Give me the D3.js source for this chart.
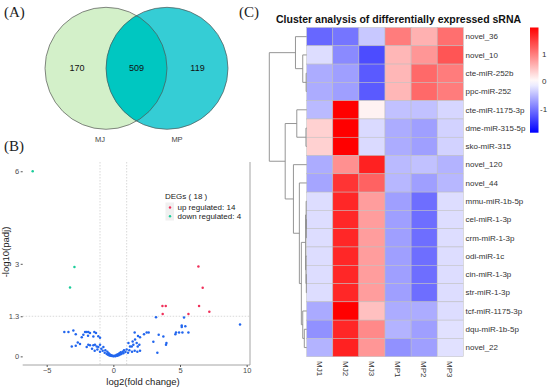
<!DOCTYPE html>
<html>
<head>
<meta charset="utf-8">
<script src="https://cdn.jsdelivr.net/npm/d3@7"></script>
<style>
  body { margin: 0; background: #fff; }
  svg { display: block; font-family: "Liberation Sans", Arial, sans-serif; }
  .panel-label { font-family: "Liberation Serif", "Times New Roman", serif; font-size: 15px; fill: #222; }
</style>
</head>
<body>
<svg id="fig" width="550" height="387"></svg>
<script>
// ---- data ----
const vennSets = ["MJ", "MP"];
const vennCounts = [170, 509, 119]; // MJ only, shared, MP only

// volcano: [log2FC, -log10(padj)]
const upPoints = [[6.38, 2.91], [6.7, 2.22], [3.68, 1.63], [3.93, 1.63], [6.43, 1.63],
  [3.7, 1.37], [5.63, 1.37], [7.2, 1.45]];
const downPoints = [[-6.05, 6.0], [-2.92, 2.9], [-3.25, 2.23]];
const nsPoints = [
  [-3.68, 0.79], [-3.37, 0.79], [-3.0, 0.84], [-2.82, 0.72], [-2.37, 0.62], [-2.12, 0.79],
  [-2.0, 0.79], [-1.88, 0.79], [-1.75, 0.76], [-1.43, 0.79], [-1.3, 0.76], [-2.25, 0.7],
  [-1.9, 0.67], [-1.5, 0.64], [-1.13, 0.65], [-1.0, 0.6], [-2.67, 0.45], [-2.5, 0.4],
  [-3.12, 0.32], [-2.82, 0.34], [-1.88, 0.38], [-1.75, 0.36], [-1.5, 0.36], [-1.38, 0.38],
  [-1.25, 0.32], [-1.13, 0.3], [-1.0, 0.38], [-2.0, 0.3], [-1.6, 0.25], [-1.4, 0.18],
  [-1.2, 0.22], [-1.0, 0.15], [-0.9, 0.25], [-0.8, 0.18], [-0.75, 0.3], [-0.65, 0.12],
  [-0.6, 0.2], [-0.5, 0.08], [-0.45, 0.15], [-0.4, 0.05], [-0.35, 0.1], [-0.3, 0.03],
  [-0.25, 0.06], [-0.2, 0.02], [-0.15, 0.04], [-0.1, 0.01], [-0.05, 0.02], [0, 0],
  [0.05, 0.01], [0.1, 0.02], [0.15, 0.0], [0.2, 0.03], [0.25, 0.05], [0.3, 0.02],
  [0.35, 0.07], [0.4, 0.04], [0.45, 0.1], [0.5, 0.06], [0.55, 0.13], [0.6, 0.08],
  [0.7, 0.15], [0.75, 0.1], [0.8, 0.2], [0.9, 0.14], [1.0, 0.22], [1.1, 0.12],
  [1.13, 0.43], [1.25, 0.32], [1.2, 0.2], [1.38, 0.32], [1.5, 0.38], [1.45, 0.48],
  [1.63, 0.55], [1.6, 0.77], [1.75, 0.43], [1.85, 0.66], [2.0, 0.62], [1.95, 0.38],
  [1.83, 0.32], [1.4, 0.15], [1.6, 0.18], [1.8, 0.15], [2.0, 0.18], [2.3, 0.72],
  [2.5, 0.77], [2.65, 0.77], [3.0, 0.47], [3.4, 0.7], [3.75, 0.64], [3.98, 0.43],
  [3.95, 0.38], [3.3, 0.12], [4.7, 0.77], [4.65, 0.72], [4.93, 0.77], [5.18, 0.77],
  [5.63, 0.77], [5.13, 1.0], [5.13, 0.95], [5.4, 0.98], [3.2, 1.27], [5.3, 1.26], [9.5, 1.03]
];
const volcanoXTicks = [-5, 0, 5, 10];
const volcanoYTicks = [0, 1.3, 3, 6];
const degTotal = 18, degUp = 14, degDown = 4;

// heatmap
const colNames = ["MJ1", "MJ2", "MJ3", "MP1", "MP2", "MP3"];
const rowNames = ["novel_36", "novel_10", "cte-miR-252b", "ppc-miR-252", "cte-miR-1175-3p",
  "dme-miR-315-5p", "sko-miR-315", "novel_120", "novel_44", "mmu-miR-1b-5p", "cel-miR-1-3p",
  "crm-miR-1-3p", "odi-miR-1c", "cin-miR-1-3p", "str-miR-1-3p", "tcf-miR-1175-3p",
  "dqu-miR-1b-5p", "novel_22"];
const zValues = [
  [-1.1, -1.0, -0.4, 1.0, 0.6, 1.1],
  [-0.25, -0.85, -1.3, 0.55, 0.8, 1.3],
  [-0.6, -0.7, -1.2, 0.55, 1.15, 1.0],
  [-0.6, -0.7, -1.2, 0.55, 1.15, 1.0],
  [-0.5, 1.95, 0.1, -0.45, -0.45, -0.3],
  [0.35, 1.95, -0.27, -0.6, -0.7, -0.33],
  [0.35, 1.95, -0.27, -0.6, -0.7, -0.33],
  [-0.6, 0.85, 1.7, -0.5, -0.45, -0.55],
  [-0.65, 1.55, 1.2, -0.52, -0.7, -0.52],
  [-0.25, 1.65, 0.75, -0.7, -1.05, -0.25],
  [-0.25, 1.65, 0.75, -0.7, -1.05, -0.25],
  [-0.25, 1.65, 0.75, -0.7, -1.05, -0.25],
  [-0.25, 1.65, 0.75, -0.7, -1.05, -0.25],
  [-0.25, 1.65, 0.75, -0.7, -1.05, -0.25],
  [-0.25, 1.65, 0.75, -0.7, -1.05, -0.25],
  [-0.62, 1.95, 0.48, -0.6, -0.6, -0.25],
  [-0.8, 1.65, 0.9, -0.55, -0.7, -0.22],
  [-0.55, 1.7, 0.8, -0.8, -0.7, -0.22]
];
const colorTicks = [-1, 0, 1];
// row clustering: [height, left, right], leaves are row indices
const rowTree = [10,
  [3.0, 0, [1.06, 1, [0.15, 2, 3]]],
  [5.75,
    [2.65, 4, [0.2, 5, 6]],
    [3.55, 7, [1.96, 8, [1.43,
      [0.3, [0.15, 9, [0.1, 10, 11]], [0.2, 12, [0.1, 13, 14]]],
      [1.06, 15, [0.64, 16, 17]]]]]]];

const svg = d3.select("#fig");

// ---- panel labels ----
svg.append("text").attr("class", "panel-label").attr("x", 4).attr("y", 17).text("(A)");
svg.append("text").attr("class", "panel-label").attr("x", 4).attr("y", 151).text("(B)");
svg.append("text").attr("class", "panel-label").attr("x", 239).attr("y", 17).text("(C)");

// ---- (A) venn ----
function drawVenn() {
  const g = svg.append("g");
  const r = 61, cy = 68.3;
  const cx = [106, 167];
  g.append("circle").attr("cx", cx[0]).attr("cy", cy).attr("r", r)
    .attr("fill", "#d3f0c9").attr("stroke", "none");
  g.append("circle").attr("cx", cx[1]).attr("cy", cy).attr("r", r)
    .attr("fill", "#35cdd5").attr("stroke", "none");
  // intersection lens
  g.append("clipPath").attr("id", "clipL")
    .append("circle").attr("cx", cx[0]).attr("cy", cy).attr("r", r);
  g.append("circle").attr("cx", cx[1]).attr("cy", cy).attr("r", r)
    .attr("clip-path", "url(#clipL)").attr("fill", "#00c7c1");
  cx.forEach(x => g.append("circle").attr("cx", x).attr("cy", cy).attr("r", r)
    .attr("fill", "none").attr("stroke", "#555").attr("stroke-width", 0.7));

  const numX = [77, 136.5, 197.5];
  vennCounts.forEach((c, i) => g.append("text")
    .attr("x", numX[i]).attr("y", 70.5).attr("text-anchor", "middle")
    .style("font-size", "9px").attr("fill", "#111").text(c));
  const labX = [100, 177];
  vennSets.forEach((s, i) => g.append("text")
    .attr("x", labX[i]).attr("y", 142).attr("text-anchor", "middle")
    .style("font-size", "7.5px").attr("fill", "#444").text(s));
}

// ---- (B) volcano ----
function drawVolcano() {
  const g = svg.append("g");
  const x = d3.scaleLinear().domain([-6.8, 10.25]).range([22.7, 250]);
  const y = d3.scaleLinear().domain([-0.28, 6.3]).range([365, 162]);
  const [x0, x1] = x.range(), [y0, y1] = y.range();

  // threshold lines
  g.selectAll(".vline").data([-1, 1]).enter().append("line")
    .attr("x1", d => x(d)).attr("x2", d => x(d)).attr("y1", y1).attr("y2", y0)
    .attr("stroke", "#c8c8c8").attr("stroke-width", 0.7).attr("stroke-dasharray", "1.5,1.5");
  g.append("line").attr("x1", x0).attr("x2", x1).attr("y1", y(1.3)).attr("y2", y(1.3))
    .attr("stroke", "#c8c8c8").attr("stroke-width", 0.7).attr("stroke-dasharray", "1.5,1.5");

  // bottom + right border
  g.append("line").attr("x1", x0).attr("x2", x1).attr("y1", y0).attr("y2", y0)
    .attr("stroke", "#9a9a9a").attr("stroke-width", 0.9);
  g.append("line").attr("x1", x1).attr("x2", x1).attr("y1", y1).attr("y2", y0)
    .attr("stroke", "#9a9a9a").attr("stroke-width", 0.9);

  const xAxis = g.append("g").attr("transform", `translate(0,${y0})`)
    .call(d3.axisBottom(x).tickValues(volcanoXTicks).tickSize(2).tickPadding(1).tickFormat(d3.format("d")));
  const yAxis = g.append("g").attr("transform", `translate(${x0},0)`)
    .call(d3.axisLeft(y).tickValues(volcanoYTicks).tickSize(2).tickPadding(1.5).tickFormat(d => d));
  [xAxis, yAxis].forEach(a => {
    a.select(".domain").remove();
    a.selectAll("line").attr("stroke", "#555");
    a.selectAll("text").style("font-size", "7.5px").attr("fill", "#4d4d4d")
      .style("font-family", "Liberation Sans, Arial, sans-serif");
  });

  const dots = (data, color) => g.append("g").selectAll("circle").data(data).enter()
    .append("circle").attr("cx", d => x(d[0])).attr("cy", d => y(d[1]))
    .attr("r", 1.25).attr("fill", color);
  dots(nsPoints, "#2266ee");
  dots(upPoints, "#f0305a");
  dots(downPoints, "#19cc99");

  g.append("text").attr("x", 143).attr("y", 385).attr("text-anchor", "middle")
    .style("font-size", "9.5px").attr("fill", "#222").text("log2(fold change)");
  g.append("text").attr("transform", "translate(9,252) rotate(-90)").attr("text-anchor", "middle")
    .style("font-size", "9.5px").attr("fill", "#222").text("-log10(padj)");

  // legend
  g.append("text").attr("x", 165).attr("y", 198.5).style("font-size", "8px")
    .attr("fill", "#222").text(`DEGs ( ${degTotal} )`);
  g.append("rect").attr("x", 165.5).attr("y", 202.5).attr("width", 8.5).attr("height", 18)
    .attr("fill", "#f0f0f0");
  const items = [["up regulated: " + degUp, "#f0305a"], ["down regulated: " + degDown, "#19cc99"]];
  items.forEach((it, i) => {
    const cy = 207.5 + i * 8.8;
    g.append("circle").attr("cx", 170).attr("cy", cy).attr("r", 1.2).attr("fill", it[1]);
    g.append("text").attr("x", 177.5).attr("y", cy + 2.8).style("font-size", "8px")
      .attr("fill", "#222").text(it[0]);
  });
}

// ---- (C) heatmap ----
function drawHeatmap() {
  const g = svg.append("g");
  const x = d3.scaleBand().domain(colNames).range([306.7, 463.3]);
  const y = d3.scaleBand().domain(d3.range(rowNames.length)).range([27.5, 356.7]);
  const color = d3.scaleLinear().domain([-1.85, 0, 1.95]).range(["#0000ff", "#ffffff", "#ff0000"]);

  g.append("text").attr("x", 276).attr("y", 23).style("font-size", "10.5px")
    .style("font-weight", "bold").attr("fill", "#111")
    .text("Cluster analysis of differentially expressed sRNA");

  zValues.forEach((row, i) => {
    g.append("g").selectAll("rect").data(row).enter().append("rect")
      .attr("x", (d, j) => x(colNames[j])).attr("y", y(i))
      .attr("width", x.bandwidth()).attr("height", y.bandwidth())
      .attr("fill", d => color(d)).attr("stroke", "#bdbdbd").attr("stroke-width", 0.5);
  });

  g.append("g").selectAll("text").data(rowNames).enter().append("text")
    .attr("x", 465.5).attr("y", (d, i) => y(i) + y.bandwidth() / 2).attr("dy", "0.35em")
    .style("font-size", "8px").attr("fill", "#333").text(d => d);

  g.append("g").selectAll("text").data(colNames).enter().append("text")
    .attr("transform", d => `translate(${x(d) + x.bandwidth() / 2},361) rotate(90)`)
    .attr("dy", "0.35em").style("font-size", "8px").attr("fill", "#333").text(d => d);

  // row dendrogram
  const hx = d3.scaleLinear().domain([0, 10]).range([306.7, 269.3]);
  const links = [];
  function layout(node) {
    if (typeof node === "number") return { y: y(node) + y.bandwidth() / 2, h: 0 };
    const [h, a, b] = node;
    const l = layout(a), r = layout(b);
    links.push([hx(l.h), l.y, hx(h), l.y]);
    links.push([hx(r.h), r.y, hx(h), r.y]);
    links.push([hx(h), l.y, hx(h), r.y]);
    return { y: (l.y + r.y) / 2, h: h };
  }
  layout(rowTree);
  g.append("g").selectAll("line").data(links).enter().append("line")
    .attr("x1", d => d[0]).attr("y1", d => d[1]).attr("x2", d => d[2]).attr("y2", d => d[3])
    .attr("stroke", "#8a8a8a").attr("stroke-width", 0.9);

  // colour key
  const ky = d3.scaleLinear().domain([-1.85, 1.95]).range([132.7, 27.5]);
  const grad = svg.append("defs").append("linearGradient").attr("id", "key")
    .attr("x1", 0).attr("x2", 0).attr("y1", 1).attr("y2", 0);
  d3.range(0, 1.001, 0.05).forEach(t => {
    const v = -1.85 + t * 3.8;
    grad.append("stop").attr("offset", t).attr("stop-color", color(v));
  });
  g.append("rect").attr("x", 530).attr("y", ky(1.95)).attr("width", 8.5)
    .attr("height", ky(-1.85) - ky(1.95)).attr("fill", "url(#key)");
  g.append("g").selectAll("text").data(colorTicks).enter().append("text")
    .attr("x", d => d < 0 ? 540 : 542).attr("y", d => ky(d)).attr("dy", "0.35em")
    .style("font-size", "8px").attr("fill", "#333").text(d => d);
}

drawVenn();
drawVolcano();
drawHeatmap();
</script>
</body>
</html>
